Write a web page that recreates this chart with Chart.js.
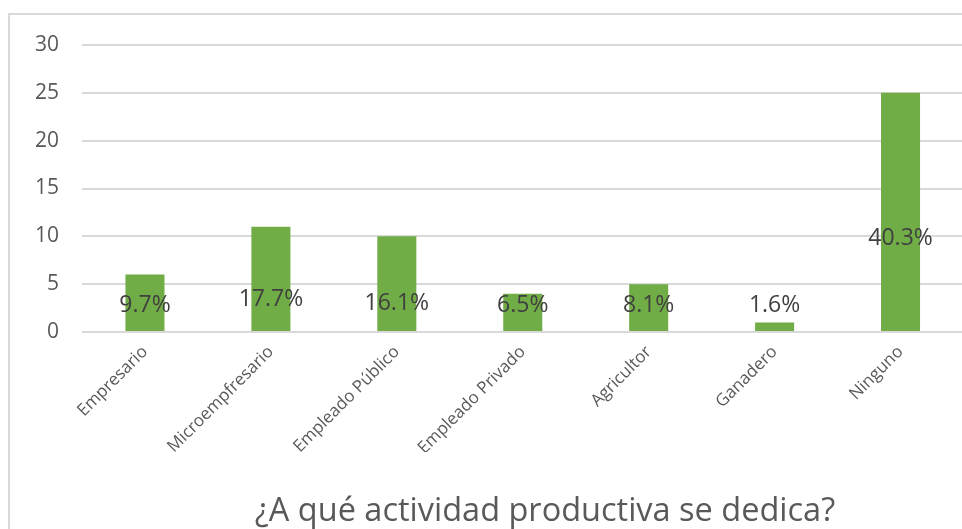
<!DOCTYPE html>
<html>
<head>
<meta charset="utf-8">
<script src="https://cdn.jsdelivr.net/npm/chart.js@4.4.1/dist/chart.umd.min.js"></script>
<style>
    html, body { margin: 0; padding: 0; width: 962px; height: 529px; overflow: hidden; background: #fff; }
    #frame { position: absolute; left: 8px; top: 13px; width: 1000px; height: 600px; border: 2px solid #d9d9d9; }
    #wrap { position: absolute; left: 0; top: 0; width: 972px; height: 529px; }
    #title { position: absolute; left: 0; width: 1090px; top: 486px; text-align: center;
             font-family: "Open Sans", sans-serif; font-size: 32.5px; color: #595959; white-space: nowrap; }
</style>
</head>
<body>
<div id="frame"></div>
<div id="wrap"><canvas id="plot"></canvas></div>
<div id="title">¿A qué actividad productiva se dedica?</div>
<script>
const categories = ['Empresario', 'Microempfresario', 'Empleado Público', 'Empleado Privado', 'Agricultor', 'Ganadero', 'Ninguno'];
const counts = [6, 11, 10, 4, 5, 1, 25];
const yTicks = [0, 5, 10, 15, 20, 25, 30];

const total = counts.reduce((a, b) => a + b, 0);

// percentage labels drawn over the bars
const pctLabels = {
    id: 'pctLabels',
    afterDatasetsDraw(chart) {
        const ctx = chart.ctx;
        const meta = chart.getDatasetMeta(0);
        const y = chart.scales.y;
        ctx.save();
        ctx.font = '23px "Open Sans"';
        ctx.fillStyle = '#404040';
        ctx.textAlign = 'center';
        ctx.textBaseline = 'middle';
        meta.data.forEach((bar, i) => {
            const v = counts[i];
            const lift = Math.max(v * 0.45 - 1.5, 2.8);
            const txt = (v / total * 100).toFixed(1) + '%';
            ctx.fillText(txt, bar.x, y.getPixelForValue(lift));
        });
        ctx.restore();
    }
};

function drawPlot() {
    const ctx = document.getElementById('plot');

    new Chart(ctx, {
        type: 'bar',
        data: {
            labels: categories,
            datasets: [{
                data: counts,
                backgroundColor: '#70AD47',
                barPercentage: 0.31,
                categoryPercentage: 1
            }]
        },
        options: {
            responsive: true,
            maintainAspectRatio: false,
            animation: false,
            layout: { padding: { top: 45, left: 0, right: 8.5, bottom: 77 } },
            plugins: {
                legend: { display: false },
                tooltip: { enabled: false }
            },
            scales: {
                x: {
                    grid: { display: false, drawTicks: false },
                    border: { display: false },
                    ticks: {
                        maxRotation: 45, minRotation: 45,
                        padding: 10,
                        color: '#595959',
                        font: { family: 'Open Sans', size: 17 }
                    },
                    afterFit: (s) => { s.height = 120; }
                },
                y: {
                    min: 0,
                    max: 30,
                    afterBuildTicks: (s) => { s.ticks = yTicks.map(v => ({ value: v })); },
                    grid: { color: '#d9d9d9', lineWidth: 2, drawTicks: false },
                    border: { display: false },
                    ticks: {
                        padding: 23,
                        color: '#595959',
                        font: { family: 'Open Sans', size: 21 }
                    },
                    afterFit: (s) => { s.width = 82; }
                }
            }
        },
        plugins: [pctLabels]
    });
}

drawPlot();
</script>
</body>
</html>
